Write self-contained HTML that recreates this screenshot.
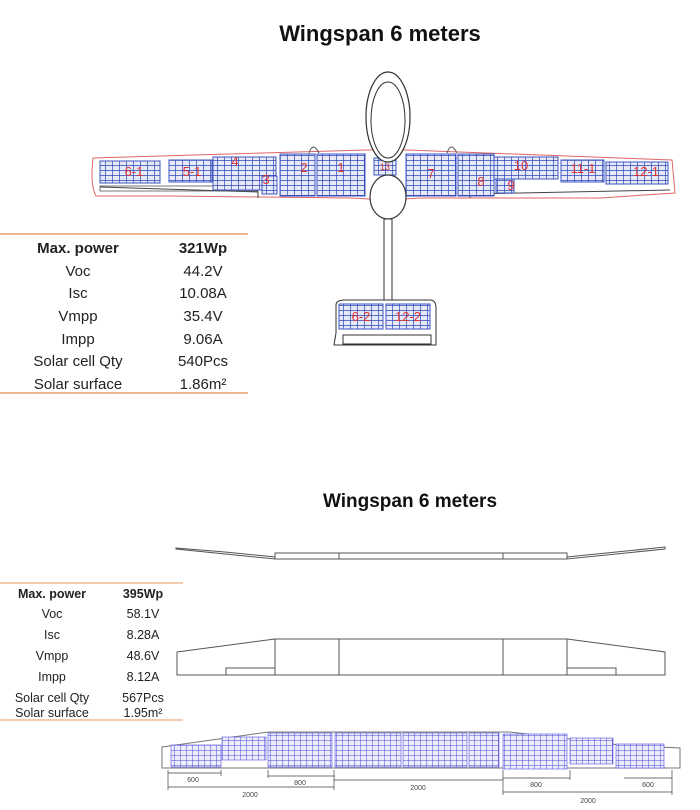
<!DOCTYPE html>
<html><head><meta charset="utf-8"><style>
html,body{margin:0;padding:0;background:#fff;}
svg{display:block;font-family:"Liberation Sans",sans-serif;}
</style></head><body>
<svg width="700" height="810" viewBox="0 0 700 810" xmlns="http://www.w3.org/2000/svg">
<defs>
<pattern id="g" width="7" height="5" patternUnits="userSpaceOnUse">
<rect width="7" height="5" fill="#e6eaf8"/>
<path d="M0 0H7M0 0V5" stroke="#2f48b8" stroke-width="1.4"/>
</pattern>
<pattern id="g2" width="6" height="5" patternUnits="userSpaceOnUse">
<rect width="6" height="5" fill="#ececfb"/>
<path d="M0 0H6M0 0V5" stroke="#4a4ad8" stroke-width="1"/>
</pattern>
</defs>
<text x="380" y="41" font-size="22" font-weight="bold" text-anchor="middle" fill="#111">Wingspan 6 meters</text>

<path d="M93 158 L366 150 L407 150 L672 160 L675 193 L600 198 L420 198 L390 200 L350 198 L170 196 L96 196 Q90 185 93 158Z" fill="#fff" stroke="#d66" stroke-width="1"/>
<path d="M100 187 L258 192 L258 198 M470 198 L470 194 L670 190" fill="none" stroke="#444" stroke-width="1"/>
<rect x="100" y="172" width="158" height="5" fill="none" stroke="#555" stroke-width="0.8" transform="translate(0,14)"/>
<rect x="100" y="161" width="60" height="22" fill="url(#g)" stroke="#3f56c0"/>
<rect x="169" y="160" width="43" height="22" fill="url(#g)" stroke="#3f56c0"/>
<rect x="213" y="157" width="63" height="33" fill="url(#g)" stroke="#3f56c0"/>
<rect x="262" y="176" width="15" height="18" fill="url(#g)" stroke="#3f56c0"/>
<rect x="280" y="154" width="35" height="42" fill="url(#g)" stroke="#3f56c0"/>
<rect x="317" y="154" width="48" height="42" fill="url(#g)" stroke="#3f56c0"/>
<rect x="374" y="158" width="22" height="17" fill="url(#g)" stroke="#3f56c0"/>
<rect x="406" y="154" width="50" height="42" fill="url(#g)" stroke="#3f56c0"/>
<rect x="458" y="154" width="36" height="42" fill="url(#g)" stroke="#3f56c0"/>
<rect x="494" y="157" width="64" height="22" fill="url(#g)" stroke="#3f56c0"/>
<rect x="496" y="179" width="18" height="14" fill="url(#g)" stroke="#3f56c0"/>
<rect x="561" y="160" width="43" height="22" fill="url(#g)" stroke="#3f56c0"/>
<rect x="606" y="162" width="62" height="22" fill="url(#g)" stroke="#3f56c0"/>
<g fill="#d33" font-size="13" text-anchor="middle">
<text x="134" y="176">6-1</text><text x="192" y="176">5-1</text><text x="235" y="166">4</text>
<text x="266" y="184">3</text><text x="304" y="172">2</text><text x="341" y="172">1</text>
<text x="385" y="170" font-size="9">13</text><text x="431" y="178">7</text><text x="481" y="186">8</text>
<text x="521" y="170">10</text><text x="511" y="190">9</text><text x="583" y="173">11-1</text><text x="646" y="176">12-1</text>
</g>
<ellipse cx="388" cy="117" rx="22" ry="45" fill="#fff" stroke="#333" stroke-width="1.2"/>
<ellipse cx="388" cy="120" rx="17" ry="38" fill="none" stroke="#333" stroke-width="1"/>
<ellipse cx="388" cy="197" rx="18" ry="22" fill="#fff" stroke="#333" stroke-width="1.2"/>
<path d="M309 153 q4 -12 10 0 M447 153 q4 -12 10 0" fill="none" stroke="#555"/>
<rect x="384" y="219" width="8" height="82" fill="#fff" stroke="#333"/>
<path d="M336 333 L336 305 Q336 300 345 300 L430 300 Q436 300 436 308 L436 345 L334 345 Z" fill="#fff" stroke="#333"/>
<rect x="343" y="335" width="88" height="9" fill="none" stroke="#333"/>
<rect x="339" y="304" width="44" height="25" fill="url(#g)" stroke="#3f56c0"/>
<rect x="386" y="304" width="44" height="25" fill="url(#g)" stroke="#3f56c0"/>
<text x="361" y="321" fill="#d33" font-size="13" text-anchor="middle">6-2</text>
<text x="408" y="321" fill="#d33" font-size="13" text-anchor="middle">12-2</text>

<line x1="0" y1="234" x2="248" y2="234" stroke="#f0b890" stroke-width="2"/>
<line x1="0" y1="393" x2="248" y2="393" stroke="#f0b890" stroke-width="2"/>
<g font-size="15" text-anchor="middle" fill="#222">
<text x="78" y="253" font-weight="bold">Max. power</text><text x="203" y="253" font-weight="bold">321Wp</text>
<text x="78" y="276">Voc</text><text x="203" y="276">44.2V</text>
<text x="78" y="298">Isc</text><text x="203" y="298">10.08A</text>
<text x="78" y="321">Vmpp</text><text x="203" y="321">35.4V</text>
<text x="78" y="344">Impp</text><text x="203" y="344">9.06A</text>
<text x="78" y="366">Solar cell Qty</text><text x="203" y="366">540Pcs</text>
<text x="78" y="389">Solar surface</text><text x="203" y="389">1.86m²</text>
</g>

<text x="410" y="507" font-size="19" font-weight="bold" text-anchor="middle" fill="#111">Wingspan 6 meters</text>

<path d="M176 548 L225 552 L275 557 L275 559 L176 549 Z M275 553 L567 553 L567 559 L275 559 Z M567 557 L665 547 L665 549 L567 559 Z" fill="#fff" stroke="#555" stroke-width="1"/>
<line x1="339" y1="553" x2="339" y2="559" stroke="#555"/><line x1="503" y1="553" x2="503" y2="559" stroke="#555"/>

<path d="M177 652 L275 639 L567 639 L665 652 L665 675 L177 675 Z" fill="#fff" stroke="#555"/>
<path d="M275 639 V675 M339 639 V675 M503 639 V675 M567 639 V675 M226 675 V668 H275 M567 668 H616 V675" fill="none" stroke="#555"/>

<line x1="0" y1="583" x2="183" y2="583" stroke="#f0b890" stroke-width="1.5"/>
<line x1="0" y1="720" x2="183" y2="720" stroke="#f0b890" stroke-width="1.5"/>
<g font-size="12.5" text-anchor="middle" fill="#222">
<text x="52" y="598" font-weight="bold">Max. power</text><text x="143" y="598" font-weight="bold">395Wp</text>
<text x="52" y="618">Voc</text><text x="143" y="618">58.1V</text>
<text x="52" y="639">Isc</text><text x="143" y="639">8.28A</text>
<text x="52" y="660">Vmpp</text><text x="143" y="660">48.6V</text>
<text x="52" y="681">Impp</text><text x="143" y="681">8.12A</text>
<text x="52" y="702">Solar cell Qty</text><text x="143" y="702">567Pcs</text>
<text x="52" y="717">Solar surface</text><text x="143" y="717">1.95m²</text>
</g>

<path d="M162 747 L268 732 L510 732 L620 745 L680 748 L680 768 L162 768 Z" fill="#fff" stroke="#777"/>
<rect x="171" y="745" width="50" height="22" fill="url(#g2)" stroke="#5050dd" stroke-width="0.6"/>
<rect x="222" y="737" width="44" height="23" fill="url(#g2)" stroke="#5050dd" stroke-width="0.6"/>
<rect x="268" y="733" width="64" height="34" fill="url(#g2)" stroke="#5050dd" stroke-width="0.6"/>
<rect x="335" y="733" width="66" height="34" fill="url(#g2)" stroke="#5050dd" stroke-width="0.6"/>
<rect x="403" y="733" width="64" height="34" fill="url(#g2)" stroke="#5050dd" stroke-width="0.6"/>
<rect x="469" y="733" width="30" height="34" fill="url(#g2)" stroke="#5050dd" stroke-width="0.6"/>
<rect x="503" y="734" width="64" height="35" fill="url(#g2)" stroke="#5050dd" stroke-width="0.6"/>
<rect x="570" y="738" width="43" height="26" fill="url(#g2)" stroke="#5050dd" stroke-width="0.6"/>
<rect x="616" y="744" width="48" height="24" fill="url(#g2)" stroke="#5050dd" stroke-width="0.6"/>
<g stroke="#444" stroke-width="0.7" fill="none">
<path d="M168 773 H221 M268 776 H335 M334 780 H503 M503 778 H570 M624 778 H672 M168 787 H334 M503 792 H672 M168 770 V790 M334 770 V790 M503 770 V795 M672 770 V795 M221 770 V776 M268 770 V778 M570 770 V780"/>
</g>
<g font-size="7" fill="#444" text-anchor="middle">
<text x="193" y="782">600</text><text x="300" y="785">800</text><text x="418" y="790">2000</text>
<text x="536" y="787">800</text><text x="648" y="787">600</text><text x="250" y="797">2000</text><text x="588" y="803">2000</text>
</g>
</svg>
</body></html>
